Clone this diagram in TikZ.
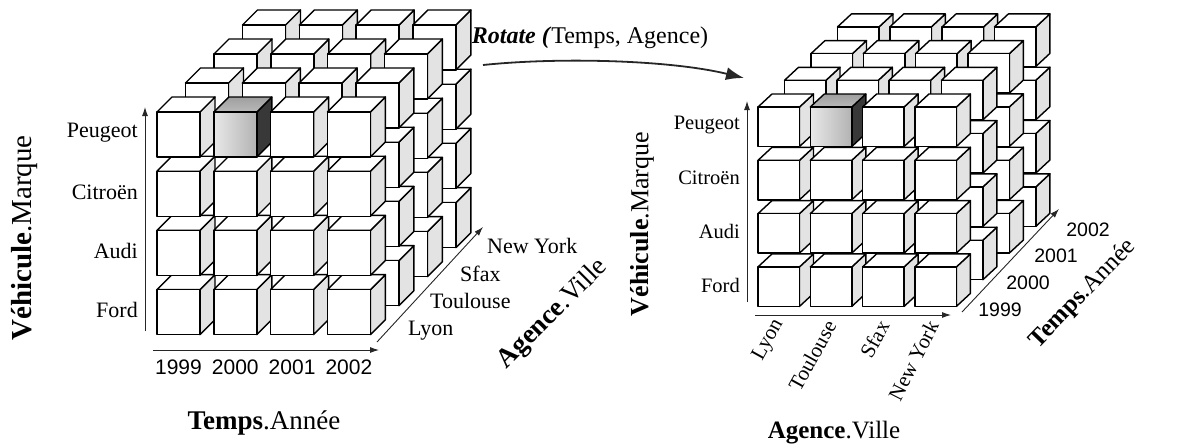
\documentclass[tikz,border=0pt]{standalone}
\usepackage{fontspec}
\setmainfont{Liberation Serif}
\newfontfamily\arialfont{Liberation Sans}
\usetikzlibrary{arrows.meta}

% one cube: #1 = style prefix, #2,#3 = top-left corner of its front face
\newcommand\drawcube[3]{%
  \path[#1side] ({#2+\cw},#3) -- ++(\cdx,\cdy) -- ++(0,\ch) -- ++({-(\cdx)},{-(\cdy)}) -- cycle;
  \path[#1top] (#2,#3) -- ++(\cdx,\cdy) -- ++(\cw,0) -- ++({-(\cdx)},{-(\cdy)}) -- cycle;
  \path[#1front] (#2,#3) rectangle ++(\cw,\ch);
}

\tikzset{
  edge/.style={draw=black, line width=1.4pt, line join=round},
  cubefront/.style={edge, fill=white},
  cubetop/.style={edge, fill=white},
  cubeside/.style={edge, fill=gray!22},
  hlfront/.style={edge, left color=gray!18, right color=gray!60},
  hltop/.style={edge, top color=gray!75, bottom color=gray!55},
  hlside/.style={edge, fill=black!78},
  axis/.style={draw=black!85, line width=0.9pt, -{Latex[length=9pt,width=6pt]}},
  rotarrow/.style={draw=black!85, line width=1.8pt, -{Latex[length=18pt,width=13pt]}},
  lab/.style={inner sep=0pt, font=\fontsize{22}{24}\selectfont},
  labs/.style={inner sep=0pt, font=\fontsize{20.5}{23}\selectfont},
  yearl/.style={inner sep=0pt, font=\arialfont\fontsize{21}{24}\selectfont},
  years/.style={inner sep=0pt, font=\arialfont\fontsize{19.5}{22}\selectfont},
  ttl/.style={inner sep=0pt, font=\fontsize{27}{30}\selectfont},
  ttls/.style={inner sep=0pt, font=\fontsize{25}{28}\selectfont},
}

\begin{document}
\begin{tikzpicture}[x=1pt,y=-1pt]
\useasboundingbox (0,0) rectangle (1204,445);

% ---------------- left cube ----------------
\def\cw{43}\def\ch{45}\def\cdx{15}\def\cdy{-15}
\foreach \k in {3,2,1,0}{
  \foreach \r in {3,2,1,0}{
    \foreach \i in {0,1,2,3}{
      \pgfmathsetmacro\px{157+56.8*\i+28.5*\k}
      \pgfmathsetmacro\py{112+59.2*\r-29*\k}
      \pgfmathtruncatemacro\id{\k*16+\r*4+\i}
      \ifnum\id=1 \drawcube{hl}{\px}{\py}\else\drawcube{cube}{\px}{\py}\fi
    }
  }
}

% left axes
\coordinate (lv0) at (145,331);
\coordinate (lv1) at (145,107);
\coordinate (lh0) at (153,350);
\coordinate (lh1) at (379,350);
\coordinate (ld0) at (377,342);
\coordinate (ld1) at (483,227);
\draw[axis] (lv0) -- (lv1);
\draw[axis] (lh0) -- (lh1);
\draw[axis] (ld0) -- (ld1);

\node[lab, anchor=east] (lpeugeot) at (138,133) {Peugeot};
\node[lab, anchor=east] (lcitroen) at (138,192) {Citroën};
\node[lab, anchor=east] (laudi) at (138,251) {Audi};
\node[lab, anchor=east] (lford) at (138,310) {Ford};

\node[yearl] (l1999) at (178.5,367) {1999};
\node[yearl] (l2000) at (235.3,367) {2000};
\node[yearl] (l2001) at (292.1,367) {2001};
\node[yearl] (l2002) at (348.9,367) {2002};

\node[lab, anchor=west] (llyon) at (408,331) {Lyon};
\node[lab, anchor=west] (ltoulouse) at (430,301) {Toulouse};
\node[lab, anchor=west] (lsfax) at (460,274) {Sfax};
\node[lab, anchor=west] (lnewyork) at (487,246) {New York};

\node[ttl] (ltemps) at (264,423) {\textbf{Temps}.Année};
\node[ttl, font=\fontsize{29}{32}\selectfont, rotate=90] (lvehicule) at (25,238) {\textbf{Véhicule}.Marque};
\node[ttl, rotate=45] (lagence) at (553,314) {\textbf{Agence}.Ville};

% ---------------- rotation ----------------
\node[inner sep=0pt, font=\fontsize{24}{27}\selectfont] (rotlabel) at (590,38)
  {\textbf{\textit{Rotate (}}Temps, Agence)};
\coordinate (rs) at (483,65);
\coordinate (re) at (744,78);
\draw[rotarrow] (rs) .. controls (560,57) and (670,60) .. (re);

% ---------------- right cube ----------------
\def\cw{41.5}\def\ch{39.5}\def\cdx{14}\def\cdy{-13}
\foreach \k in {3,2,1,0}{
  \foreach \r in {3,2,1,0}{
    \foreach \i in {0,1,2,3}{
      \pgfmathsetmacro\px{758+52.3*\i+26.5*\k}
      \pgfmathsetmacro\py{107+53.3*\r-26.7*\k}
      \pgfmathtruncatemacro\id{\k*16+\r*4+\i}
      \ifnum\id=1 \drawcube{hl}{\px}{\py}\else\drawcube{cube}{\px}{\py}\fi
    }
  }
}

% right axes
\coordinate (rv0) at (747,302);
\coordinate (rv1) at (747,101);
\coordinate (rh0) at (755,315);
\coordinate (rh1) at (951,315);
\coordinate (rd0) at (962,312);
\coordinate (rd1) at (1059,209);
\draw[axis] (rv0) -- (rv1);
\draw[axis] (rh0) -- (rh1);
\draw[axis] (rd0) -- (rd1);

\node[labs, anchor=east] (rpeugeot) at (740,125) {Peugeot};
\node[labs, anchor=east] (rcitroen) at (740,178) {Citroën};
\node[labs, anchor=east] (raudi) at (740,231) {Audi};
\node[labs, anchor=east] (rford) at (740,285) {Ford};

\node[labs, font=\fontsize{21}{23}\selectfont, anchor=east, rotate=61] (rlyon) at (779,321) {Lyon};
\node[labs, font=\fontsize{21}{23}\selectfont, anchor=east, rotate=61] (rtoulouse) at (831,322) {Toulouse};
\node[labs, font=\fontsize{21}{23}\selectfont, anchor=east, rotate=61] (rsfax) at (884,322) {Sfax};
\node[labs, font=\fontsize{21}{23}\selectfont, anchor=east, rotate=63] (rnewyork) at (933,322) {New York};

\node[years] (r1999) at (1000,310) {1999};
\node[years] (r2000) at (1028,283) {2000};
\node[years] (r2001) at (1056,256) {2001};
\node[years] (r2002) at (1088,230) {2002};

\node[ttls, font=\fontsize{26}{29}\selectfont, rotate=90] (rvehicule) at (642,224) {\textbf{Véhicule}.Marque};
\node[ttls] (ragence) at (834,433) {\textbf{Agence}.Ville};
\node[ttls, rotate=46] (rtemps) at (1083,294) {\textbf{Temps}.Année};
\end{tikzpicture}
\end{document}
